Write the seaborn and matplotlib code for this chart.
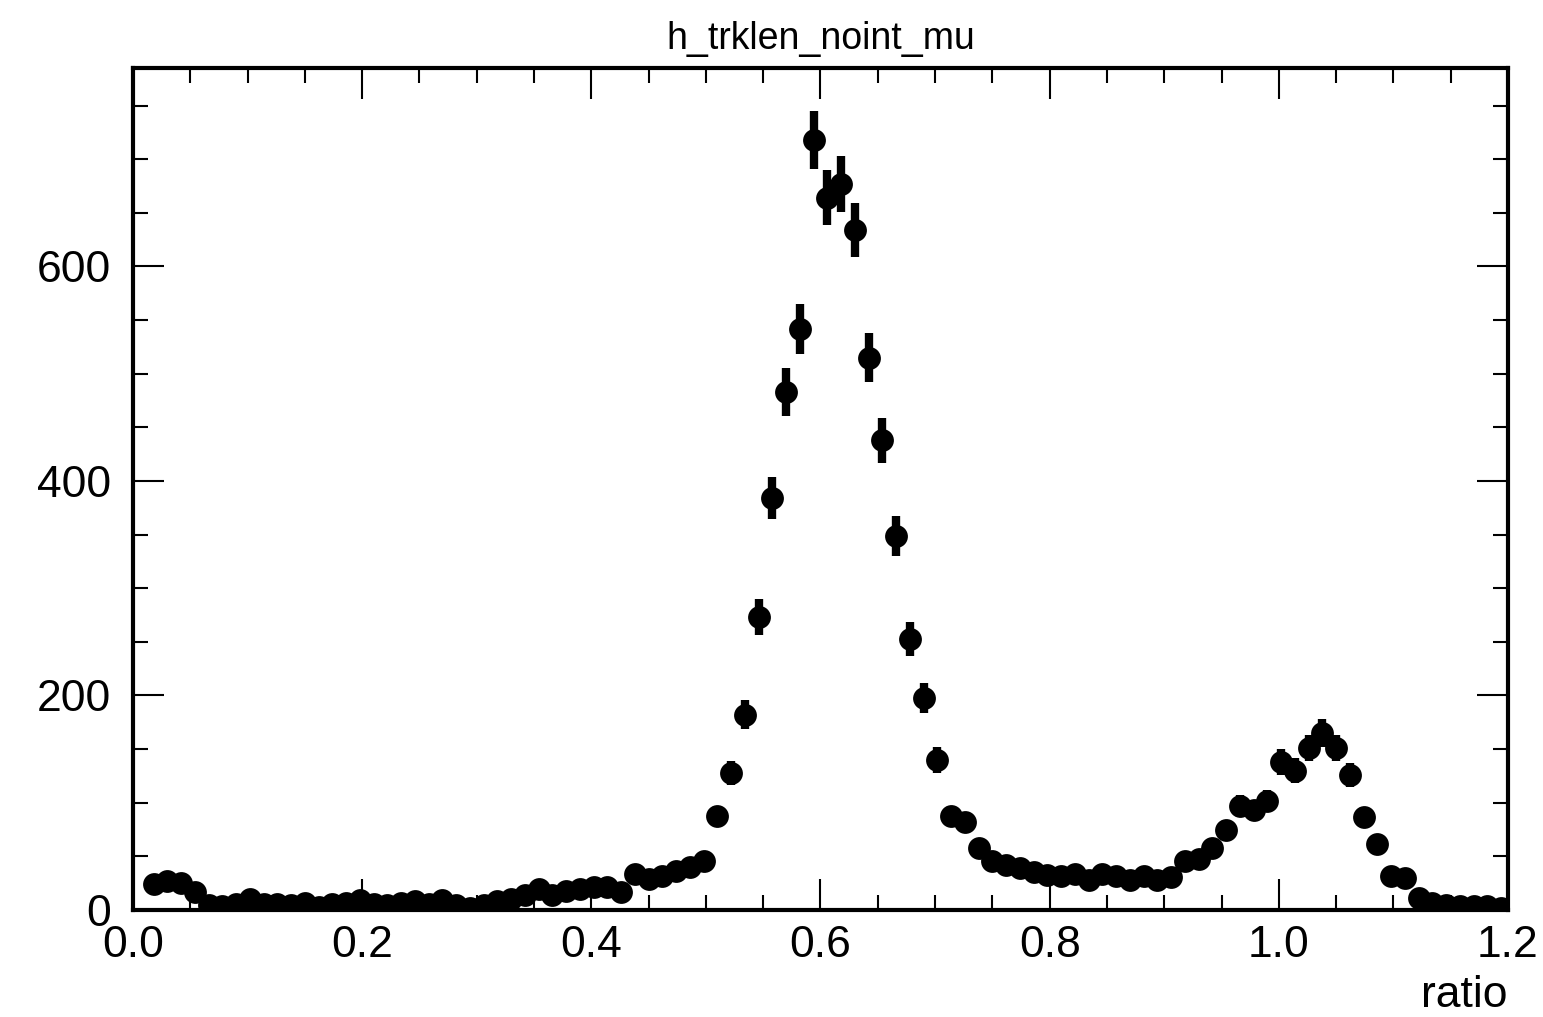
import numpy as np
import pandas as pd
import seaborn as sns
import matplotlib.pyplot as plt
from matplotlib.ticker import MultipleLocator

# ---- histogram contents (100 bins over 0 - 1.2) ----
bin_width = 0.012
bin_centers = np.round(0.006 + bin_width * np.arange(100), 3)

counts = [
    0, 24, 27, 25, 17, 5, 4, 6, 10, 6,
    6, 5, 7, 3, 6, 7, 9, 6, 5, 7,
    8, 6, 9, 5, 2, 5, 8, 10, 14, 20,
    14, 18, 20, 21, 21, 17, 34, 29, 32, 36,
    40, 46, 88, 128, 182, 273, 384, 483, 542, 718,
    664, 677, 634, 515, 438, 349, 253, 198, 140, 88,
    82, 58, 46, 42, 39, 35, 33, 32, 34, 28,
    34, 32, 28, 32, 28, 31, 46, 48, 58, 75,
    97, 93, 102, 138, 130, 151, 165, 151, 126, 87,
    62, 32, 30, 11, 7, 5, 4, 4, 4, 2,
]

df = pd.DataFrame({'ratio': bin_centers, 'entries': counts})
df = df[df['entries'] > 0]
df['err'] = np.sqrt(df['entries'])

# ---- style ----
sns.set_style('ticks')
plt.rcParams['font.family'] = ['Liberation Sans Narrow', 'Liberation Sans', 'DejaVu Sans']
plt.rcParams['text.color'] = 'black'
plt.rcParams['axes.labelcolor'] = 'black'

fig = plt.figure(figsize=(15.43, 10.17), dpi=100)
ax = fig.add_axes([0.0862, 0.1052, 0.8911, 0.8279])

ax.errorbar(df['ratio'], df['entries'], yerr=df['err'], fmt='none',
            ecolor='black', elinewidth=6, capsize=0, zorder=2)
sns.scatterplot(data=df, x='ratio', y='entries', ax=ax, color='black',
                s=270, marker='o', edgecolor='black', linewidth=0, zorder=3)

ax.set_xlim(0, 1.2)
ax.set_ylim(0, 785)
ax.xaxis.set_major_locator(MultipleLocator(0.2))
ax.xaxis.set_minor_locator(MultipleLocator(0.05))
ax.yaxis.set_major_locator(MultipleLocator(200))
ax.yaxis.set_minor_locator(MultipleLocator(50))
ax.set_xticklabels([f'{v:.1f}' for v in ax.get_xticks()])

ax.tick_params(which='both', direction='in', top=True, right=True,
               width=1.5, labelsize=32, colors='black')
ax.tick_params(which='major', length=22)
ax.tick_params(which='minor', length=11)
ax.tick_params(axis='x', which='major', pad=11)
ax.tick_params(axis='y', which='major', pad=16)

for s in ax.spines.values():
    s.set_linewidth(3)
    s.set_color('black')

ax.set_xlabel('ratio', loc='right', fontsize=32, labelpad=6)
ax.set_ylabel('')
ax.set_title('h_trklen_noint_mu', fontsize=27, pad=14, color='black')

fig.savefig('out.png', dpi=100, facecolor='white')
